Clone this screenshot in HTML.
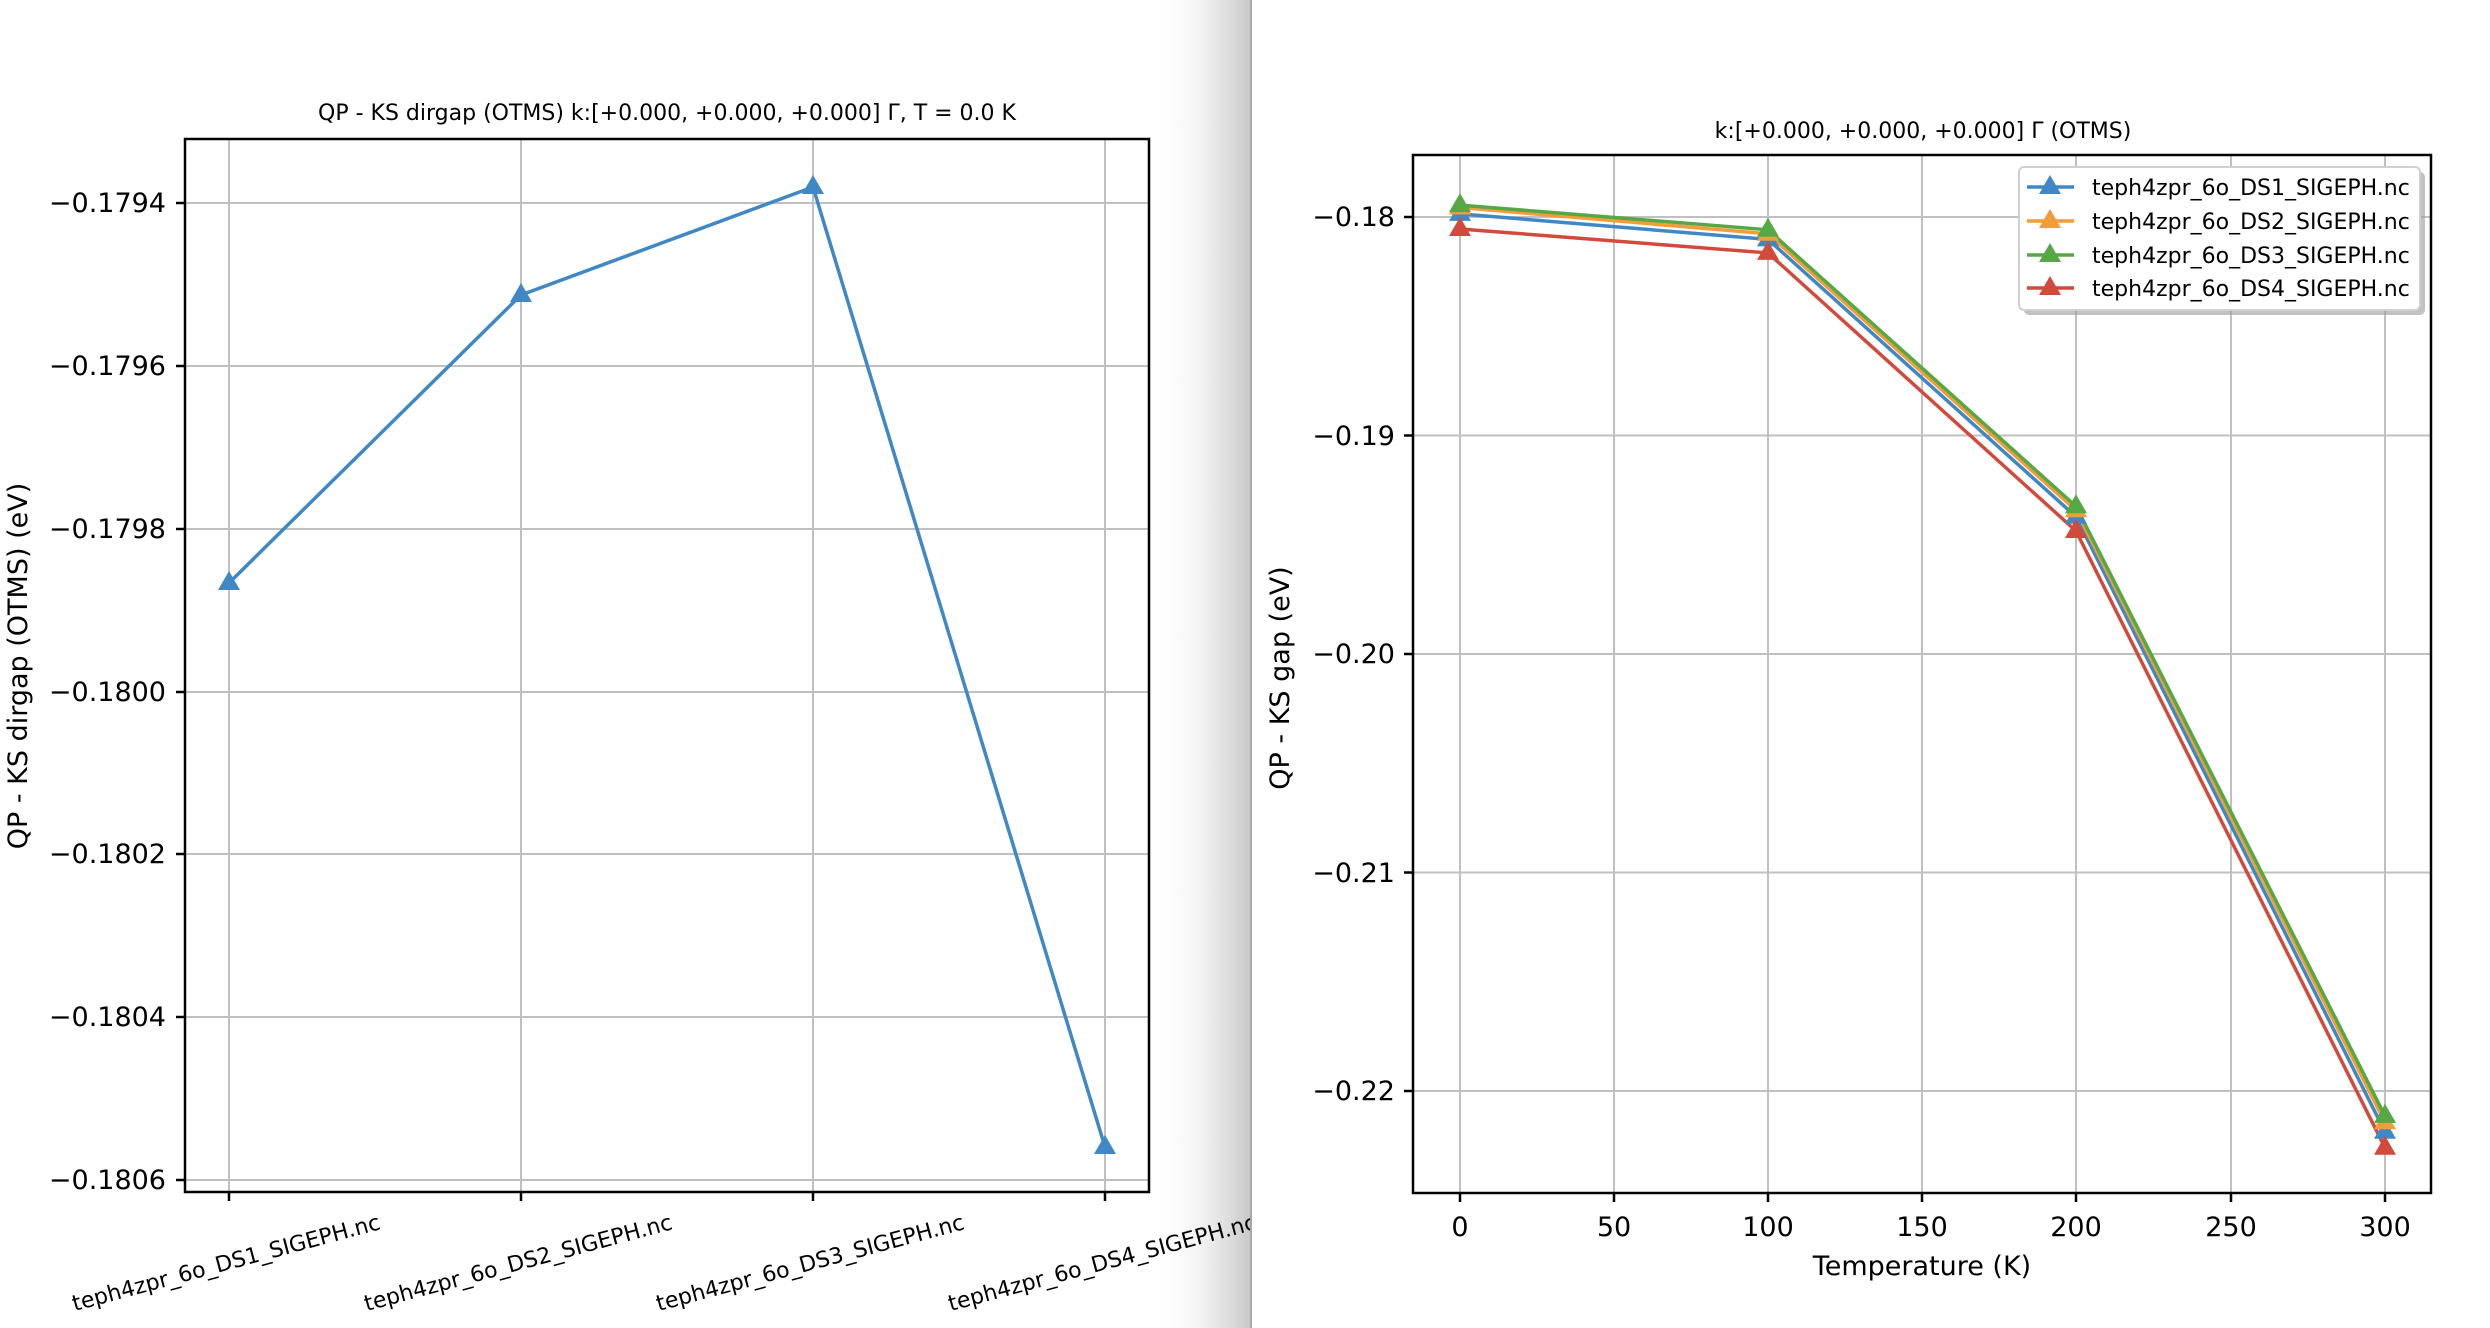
<!DOCTYPE html>
<html><head><meta charset="utf-8"><style>
html,body{margin:0;padding:0;background:#fff;}
svg{display:block;}
text{font-family:"DejaVu Sans","Liberation Sans",sans-serif;fill:#000;}
</style></head><body>
<svg width="2490" height="1328" viewBox="0 0 2490 1328" xmlns="http://www.w3.org/2000/svg">
<defs>
<linearGradient id="sh" x1="0" x2="1" y1="0" y2="0">
<stop offset="0" stop-color="#fff" stop-opacity="0"/>
<stop offset="1" stop-color="#c8c8c8"/>
</linearGradient>
<path id="tri" d="M0,-12 L11,7 L-11,7 Z"/>
<clipPath id="lc"><rect x="0" y="0" width="1250" height="1328"/></clipPath>
</defs>
<rect width="2490" height="1328" fill="#fff"/>

<!-- LEFT PLOT -->
<g>
<text x="667" y="120" font-size="22" text-anchor="middle">QP - KS dirgap (OTMS) k:[+0.000, +0.000, +0.000] Γ, T = 0.0 K</text>
<g stroke="#c0c0c0" stroke-width="2">
<line x1="229" y1="139" x2="229" y2="1192"/>
<line x1="521" y1="139" x2="521" y2="1192"/>
<line x1="813" y1="139" x2="813" y2="1192"/>
<line x1="1105" y1="139" x2="1105" y2="1192"/>
<line x1="185" y1="203" x2="1149" y2="203"/>
<line x1="185" y1="366" x2="1149" y2="366"/>
<line x1="185" y1="529" x2="1149" y2="529"/>
<line x1="185" y1="692" x2="1149" y2="692"/>
<line x1="185" y1="854" x2="1149" y2="854"/>
<line x1="185" y1="1017" x2="1149" y2="1017"/>
<line x1="185" y1="1180" x2="1149" y2="1180"/>
</g>
<rect x="185" y="139" width="964" height="1053" fill="none" stroke="#000" stroke-width="2.5"/>
<g stroke="#000" stroke-width="2.5">
<line x1="176" y1="203" x2="185" y2="203"/><line x1="176" y1="366" x2="185" y2="366"/>
<line x1="176" y1="529" x2="185" y2="529"/><line x1="176" y1="692" x2="185" y2="692"/>
<line x1="176" y1="854" x2="185" y2="854"/><line x1="176" y1="1017" x2="185" y2="1017"/>
<line x1="176" y1="1180" x2="185" y2="1180"/>
<line x1="229" y1="1192" x2="229" y2="1201"/><line x1="521" y1="1192" x2="521" y2="1201"/>
<line x1="813" y1="1192" x2="813" y2="1201"/><line x1="1105" y1="1192" x2="1105" y2="1201"/>
</g>
<g font-size="27" text-anchor="end">
<text x="166" y="212">−0.1794</text><text x="166" y="375">−0.1796</text>
<text x="166" y="538">−0.1798</text><text x="166" y="701">−0.1800</text>
<text x="166" y="863">−0.1802</text><text x="166" y="1026">−0.1804</text>
<text x="166" y="1189">−0.1806</text>
</g>
<text transform="translate(27,666) rotate(-90)" font-size="27" text-anchor="middle">QP - KS dirgap (OTMS) (eV)</text>
<g font-size="22" text-anchor="middle">
<text transform="translate(228,1270) rotate(-15)">teph4zpr_6o_DS1_SIGEPH.nc</text>
<text transform="translate(520,1270) rotate(-15)">teph4zpr_6o_DS2_SIGEPH.nc</text>
<text transform="translate(812,1270) rotate(-15)">teph4zpr_6o_DS3_SIGEPH.nc</text>
</g>
<polyline points="229,583 521,295 813,187 1105,1147" fill="none" stroke="#3f88c5" stroke-width="3.5"/>
<g fill="#3f88c5">
<use href="#tri" x="229" y="583"/><use href="#tri" x="521" y="295"/>
<use href="#tri" x="813" y="187"/><use href="#tri" x="1105" y="1147"/>
</g>
</g>

<!-- divider shadow -->
<rect x="1152" y="0" width="98" height="1328" fill="url(#sh)"/>
<g clip-path="url(#lc)">
<text transform="translate(1104,1270) rotate(-15)" font-size="22" text-anchor="middle">teph4zpr_6o_DS4_SIGEPH.nc</text>
</g>
<rect x="1250" y="0" width="2" height="1328" fill="#a8a8a8"/>
<rect x="1252" y="0" width="1238" height="1328" fill="#fff"/>

<!-- RIGHT PLOT -->
<g>
<text x="1923" y="138" font-size="22" text-anchor="middle">k:[+0.000, +0.000, +0.000] Γ (OTMS)</text>
<g stroke="#c0c0c0" stroke-width="2">
<line x1="1460" y1="155" x2="1460" y2="1193"/><line x1="1614" y1="155" x2="1614" y2="1193"/>
<line x1="1768" y1="155" x2="1768" y2="1193"/><line x1="1922" y1="155" x2="1922" y2="1193"/>
<line x1="2076" y1="155" x2="2076" y2="1193"/><line x1="2231" y1="155" x2="2231" y2="1193"/>
<line x1="2385" y1="155" x2="2385" y2="1193"/>
<line x1="1413" y1="217" x2="2431" y2="217"/><line x1="1413" y1="435.5" x2="2431" y2="435.5"/>
<line x1="1413" y1="654" x2="2431" y2="654"/><line x1="1413" y1="872.5" x2="2431" y2="872.5"/>
<line x1="1413" y1="1091" x2="2431" y2="1091"/>
</g>
<rect x="1413" y="155" width="1018" height="1038" fill="none" stroke="#000" stroke-width="2.5"/>
<g stroke="#000" stroke-width="2.5">
<line x1="1404" y1="217" x2="1413" y2="217"/><line x1="1404" y1="435.5" x2="1413" y2="435.5"/>
<line x1="1404" y1="654" x2="1413" y2="654"/><line x1="1404" y1="872.5" x2="1413" y2="872.5"/>
<line x1="1404" y1="1091" x2="1413" y2="1091"/>
<line x1="1460" y1="1193" x2="1460" y2="1202"/><line x1="1614" y1="1193" x2="1614" y2="1202"/>
<line x1="1768" y1="1193" x2="1768" y2="1202"/><line x1="1922" y1="1193" x2="1922" y2="1202"/>
<line x1="2076" y1="1193" x2="2076" y2="1202"/><line x1="2231" y1="1193" x2="2231" y2="1202"/>
<line x1="2385" y1="1193" x2="2385" y2="1202"/>
</g>
<g font-size="27" text-anchor="end">
<text x="1395" y="226">−0.18</text><text x="1395" y="445">−0.19</text>
<text x="1395" y="663">−0.20</text><text x="1395" y="882">−0.21</text>
<text x="1395" y="1100">−0.22</text>
</g>
<g font-size="27" text-anchor="middle">
<text x="1460" y="1236">0</text><text x="1614" y="1236">50</text><text x="1768" y="1236">100</text>
<text x="1922" y="1236">150</text><text x="2076" y="1236">200</text><text x="2231" y="1236">250</text>
<text x="2385" y="1236">300</text>
<text x="1922" y="1275">Temperature (K)</text>
</g>
<text transform="translate(1289,678) rotate(-90)" font-size="27" text-anchor="middle">QP - KS gap (eV)</text>
<g fill="none" stroke-width="3.5">
<polyline points="1460,213.9 1768,239.4 2076,516.7 2385,1131.8" stroke="#3f88c5"/>
<polyline points="1460,207.5 1768,233.8 2076,510.3 2385,1122.3" stroke="#f39c3a"/>
<polyline points="1460,205.1 1768,229.8 2076,506.3 2385,1115.9" stroke="#56a845"/>
<polyline points="1460,229 1768,252.9 2076,531 2385,1147.7" stroke="#d24a3c"/>
</g>
<g fill="#3f88c5"><use href="#tri" x="1460" y="213.9"/><use href="#tri" x="1768" y="239.4"/><use href="#tri" x="2076" y="516.7"/><use href="#tri" x="2385" y="1131.8"/></g>
<g fill="#f39c3a"><use href="#tri" x="1460" y="207.5"/><use href="#tri" x="1768" y="233.8"/><use href="#tri" x="2076" y="510.3"/><use href="#tri" x="2385" y="1122.3"/></g>
<g fill="#56a845"><use href="#tri" x="1460" y="205.1"/><use href="#tri" x="1768" y="229.8"/><use href="#tri" x="2076" y="506.3"/><use href="#tri" x="2385" y="1115.9"/></g>
<g fill="#d24a3c"><use href="#tri" x="1460" y="229"/><use href="#tri" x="1768" y="252.9"/><use href="#tri" x="2076" y="531"/><use href="#tri" x="2385" y="1147.7"/></g>

<!-- legend -->
<rect x="2024" y="172" width="401" height="143" rx="5" fill="#999" opacity="0.6"/>
<rect x="2019" y="167" width="401" height="143" rx="5" fill="#fff" stroke="#d0d0d0" stroke-width="2"/>
<g stroke-width="3.5">
<line x1="2027" y1="187" x2="2074" y2="187" stroke="#3f88c5"/>
<line x1="2027" y1="221" x2="2074" y2="221" stroke="#f39c3a"/>
<line x1="2027" y1="255" x2="2074" y2="255" stroke="#56a845"/>
<line x1="2027" y1="288" x2="2074" y2="288" stroke="#d24a3c"/>
</g>
<use href="#tri" x="2050" y="187" fill="#3f88c5"/>
<use href="#tri" x="2050" y="221" fill="#f39c3a"/>
<use href="#tri" x="2050" y="255" fill="#56a845"/>
<use href="#tri" x="2050" y="288" fill="#d24a3c"/>
<g font-size="22">
<text x="2092" y="195">teph4zpr_6o_DS1_SIGEPH.nc</text>
<text x="2092" y="229">teph4zpr_6o_DS2_SIGEPH.nc</text>
<text x="2092" y="263">teph4zpr_6o_DS3_SIGEPH.nc</text>
<text x="2092" y="296">teph4zpr_6o_DS4_SIGEPH.nc</text>
</g>
</g>
</svg>
</body></html>
